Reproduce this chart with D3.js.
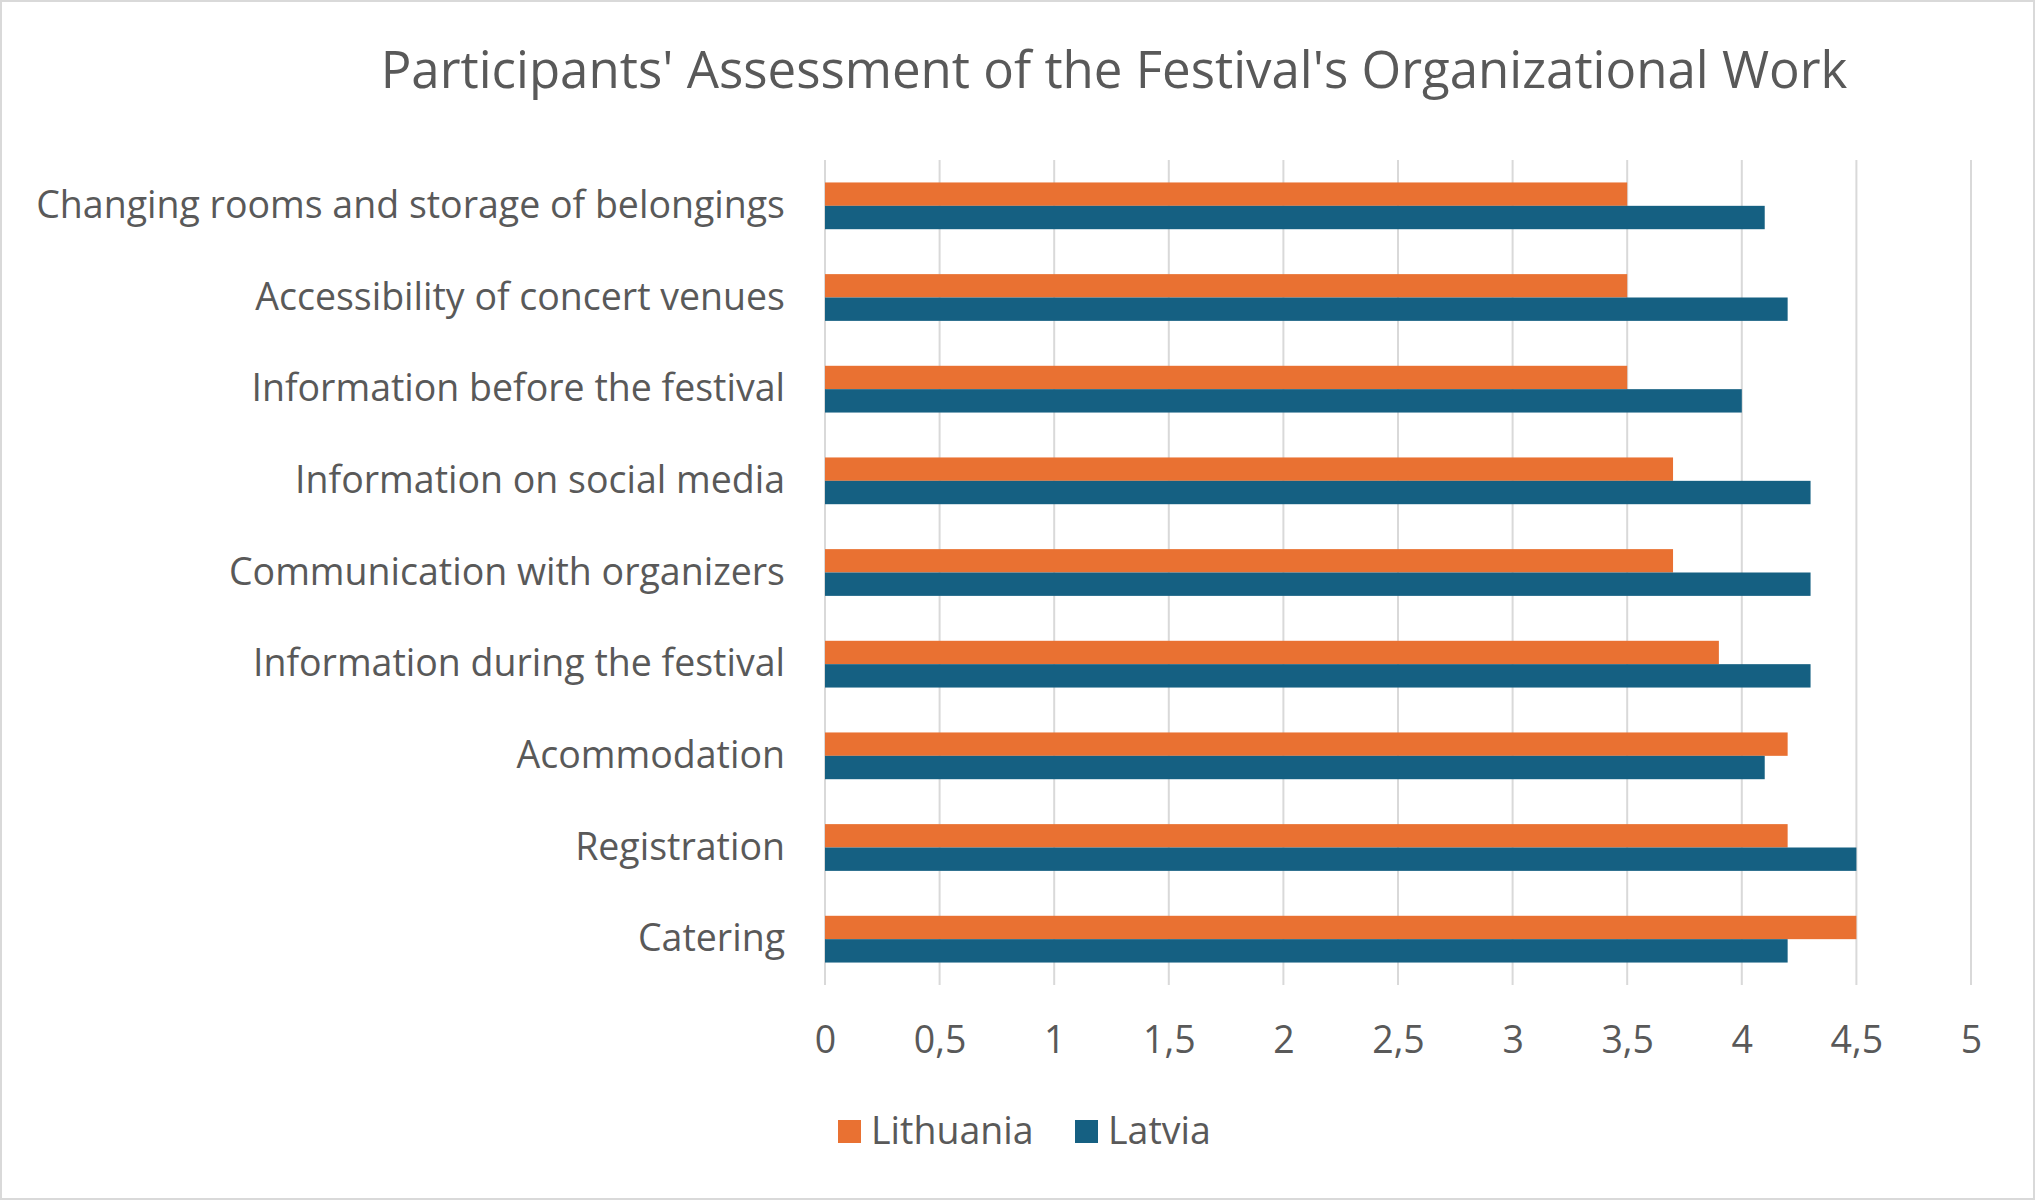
<!DOCTYPE html>
<html>
<head>
<meta charset="utf-8">
<script src="https://cdn.jsdelivr.net/npm/d3@7"></script>
<style>
  body { margin: 0; background: #fff; }
  text { font-family: "Open Sans", "Noto Sans", sans-serif; fill: #595959; }
</style>
</head>
<body>
<div class="canvas"></div>
<script>
// data (top to bottom)
const categories = [
  'Changing rooms and storage of belongings',
  'Accessibility of concert venues',
  'Information before the festival',
  'Information on social media',
  'Communication with organizers',
  'Information during the festival',
  'Acommodation',
  'Registration',
  'Catering'
];
const seriesNames = ['Lithuania', 'Latvia'];
const lithuania = [3.5, 3.5, 3.5, 3.7, 3.7, 3.9, 4.2, 4.2, 4.5];
const latvia    = [4.1, 4.2, 4.0, 4.3, 4.3, 4.3, 4.1, 4.5, 4.2];
const tickValues = [0, 0.5, 1, 1.5, 2, 2.5, 3, 3.5, 4, 4.5, 5];
const title = "Participants' Assessment of the Festival's Organizational Work";

const colors = ['#E97132', '#156082'];

// dimensions of the chart
const dims = { width: 2035, height: 1200 };
const plot = { left: 825, right: 1971, top: 160, bottom: 985 };

//------------------------Svg container
const svg = d3.select('.canvas')
  .append('svg')
  .attr('width', dims.width)
  .attr('height', dims.height);

// chart frame
svg.append('rect')
  .attr('x', 1).attr('y', 1)
  .attr('width', dims.width - 2).attr('height', dims.height - 2)
  .attr('fill', '#fff')
  .attr('stroke', '#D9D9D9')
  .attr('stroke-width', 2);

//------------------------Scales
const x = d3.scaleLinear()
  .domain([0, 5])
  .range([plot.left, plot.right]);

const y = d3.scaleBand()
  .domain(categories)
  .range([plot.top, plot.bottom])
  .paddingInner(0.49)
  .paddingOuter(0.245);

const ySub = d3.scaleBand()
  .domain(seriesNames)
  .range([0, y.bandwidth()]);

// gridlines
svg.append('g')
  .selectAll('line')
  .data(tickValues)
  .join('line')
  .attr('x1', d => x(d)).attr('x2', d => x(d))
  .attr('y1', plot.top).attr('y2', plot.bottom)
  .attr('stroke', '#D9D9D9')
  .attr('stroke-width', 2);

// bars
const rows = categories.map((c, i) => ({ name: c, values: [lithuania[i], latvia[i]] }));

const groups = svg.append('g')
  .selectAll('g')
  .data(rows)
  .join('g')
  .attr('transform', d => `translate(0, ${y(d.name)})`);

groups.selectAll('rect')
  .data(d => d.values.map((v, j) => ({ series: seriesNames[j], value: v, j })))
  .join('rect')
  .attr('x', x(0))
  .attr('y', d => ySub(d.series))
  .attr('width', d => x(d.value) - x(0))
  .attr('height', ySub.bandwidth())
  .attr('fill', d => colors[d.j]);

// category labels (y axis)
const yAxis = d3.axisLeft(y).tickSize(0).tickPadding(40);
const yG = svg.append('g')
  .attr('transform', `translate(${plot.left}, 0)`)
  .call(yAxis);
yG.select('.domain').remove();
yG.selectAll('text')
  .style('font-size', '37.5px')
  .attr('fill', '#595959');

// value labels (x axis)
const fmt = d => String(d).replace('.', ',');
const xAxis = d3.axisBottom(x).tickValues(tickValues).tickFormat(fmt).tickSize(0).tickPadding(41);
const xG = svg.append('g')
  .attr('transform', `translate(0, ${plot.bottom})`)
  .call(xAxis);
xG.select('.domain').remove();
xG.selectAll('text')
  .style('font-size', '37.5px')
  .attr('fill', '#595959');

// title
svg.append('text')
  .attr('x', 1114)
  .attr('y', 88)
  .attr('text-anchor', 'middle')
  .style('font-size', '51px')
  .text(title);

// legend
const legendX = [838, 1075];
const legend = svg.append('g');
seriesNames.forEach((s, i) => {
  legend.append('rect')
    .attr('x', legendX[i]).attr('y', 1120)
    .attr('width', 23).attr('height', 23)
    .attr('fill', colors[i]);
  legend.append('text')
    .attr('x', legendX[i] + 33).attr('y', 1144)
    .style('font-size', '37.5px')
    .text(s);
});
</script>
</body>
</html>
